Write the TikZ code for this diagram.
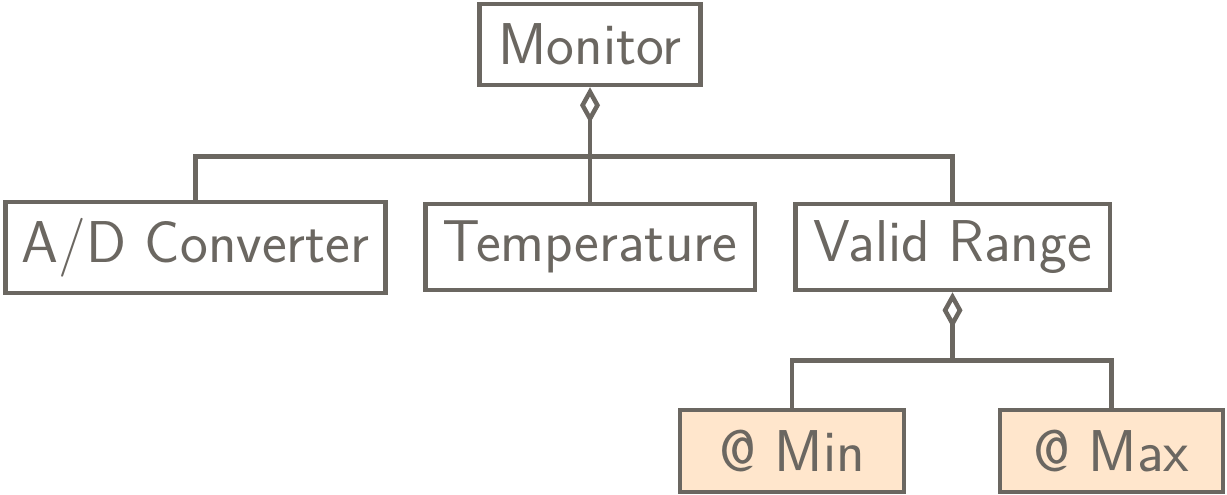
\documentclass[tikz,border=0pt]{standalone}
\usetikzlibrary{arrows.meta}
\definecolor{stroke}{RGB}{107,103,97}
\definecolor{peach}{RGB}{255,230,204}
\begin{document}
\begin{tikzpicture}[x=1pt,y=-1pt,
  box/.style={draw=stroke, line width=4.5pt, fill=white, inner sep=0pt,
    text=stroke, font=\fontsize{59}{64}\selectfont\sffamily},
  attr/.style={box, fill=peach},
  link/.style={draw=stroke, line width=4.5pt},
  agg/.style={link, -{Diamond[open, length=36pt, width=20pt]}}]
\useasboundingbox (0,0) rectangle (1227,495);
\node[box, minimum width=221pt, minimum height=81pt] (mon) at (590,44.5) {Monitor};
\node[box, minimum width=380pt, minimum height=91pt] (ad) at (195.5,247.5) {A/D Converter};
\node[box, minimum width=329.5pt, minimum height=86pt] (tp) at (590,247) {Temperature};
\node[box, minimum width=314.5pt, minimum height=86pt] (vr) at (952.5,247) {Valid Range};
\node[attr, minimum width=224pt, minimum height=82pt] (mn) at (792,451) {@ Min};
\node[attr, minimum width=223pt, minimum height=82pt] (mx) at (1111.5,451) {@ Max};
\coordinate (j1) at (590,156.5);
\coordinate (j2) at (952.5,360.5);
\draw[link] (ad.north) |- (j1) -| (vr.north);
\draw[link] (tp.north) -- (tp.north |- j1);
\draw[agg] (j1) -- (mon.south);
\draw[link] (mn.north) |- (j2) -| (mx.north);
\draw[agg] (j2) -- (vr.south);
\end{tikzpicture}
\end{document}
